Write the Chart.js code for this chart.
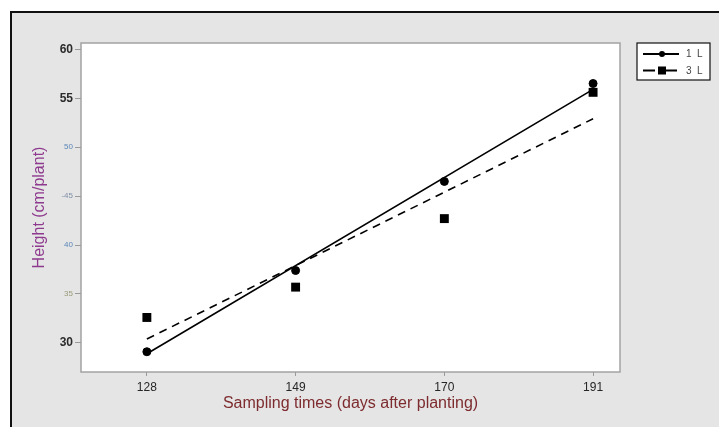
<!DOCTYPE html>
<html>
<head>
<meta charset="utf-8">
<script src="https://cdn.jsdelivr.net/npm/chart.js@4/dist/chart.umd.min.js"></script>
<style>
  html, body { margin: 0; padding: 0; background: #ffffff; }
  #wrap { width: 719px; height: 427px; position: relative; }
</style>
</head>
<body>
<div id="wrap"><canvas id="grafico" width="719" height="427"></canvas></div>
<script>
// datos
const dias = [128, 149, 170, 191];            // eje X (sampling times)
const alto1L = [29.1, 37.4, 46.5, 56.5];      // 1 L, puntos
const alto3L = [32.6, 35.7, 42.7, 55.6];      // 3 L, puntos
const ajuste1L = [28.9, 55.9];                // recta ajustada 1 L (en 128 y 191)
const ajuste3L = [30.4, 52.9];                // recta ajustada 3 L (en 128 y 191)
const ticksY = [30, 35, 40, 45, 50, 55, 60];
const etiquetasY = ['30', '35', '40', '-45', '50', '55', '60'];
const series = ['1 L', '3 L'];

// estilos de las etiquetas del eje Y (la imagen original es irregular)
const estiloTickY = {
  30: { color: '#2b2b2b', size: 12, weight: 'bold' },
  35: { color: '#9a9a78', size: 8, weight: 'normal' },
  40: { color: '#5b86b8', size: 8, weight: 'normal' },
  45: { color: '#7f8fa8', size: 8, weight: 'normal' },
  50: { color: '#5b86b8', size: 8, weight: 'normal' },
  55: { color: '#2b2b2b', size: 12, weight: 'bold' },
  60: { color: '#2b2b2b', size: 12, weight: 'bold' }
};

const puntos = (ys) => dias.map((d, i) => ({ x: d, y: ys[i] }));
const recta = (ys) => [{ x: dias[0], y: ys[0] }, { x: dias[dias.length - 1], y: ys[1] }];

// fondo gris, marco negro y area blanca del grafico
const fondo = {
  id: 'fondo',
  beforeDraw(chart) {
    const { ctx, chartArea: a } = chart;
    ctx.save();
    ctx.fillStyle = '#ffffff';
    ctx.fillRect(0, 0, chart.width, chart.height);
    ctx.fillStyle = '#e5e5e5';
    ctx.fillRect(10, 11, chart.width - 10, chart.height - 11);
    ctx.strokeStyle = '#111111';
    ctx.lineWidth = 2;
    ctx.beginPath();
    ctx.moveTo(11, chart.height);
    ctx.lineTo(11, 12);
    ctx.lineTo(chart.width, 12);
    ctx.stroke();
    ctx.fillStyle = '#ffffff';
    ctx.fillRect(a.left, a.top, a.right - a.left, a.bottom - a.top);
    ctx.strokeStyle = '#a3a3a3';
    ctx.lineWidth = 1.5;
    ctx.strokeRect(a.left, a.top, a.right - a.left, a.bottom - a.top);
    ctx.restore();
  }
};

// leyenda con linea y marcador, dentro de un recuadro
const leyenda = {
  id: 'leyenda',
  afterDraw(chart) {
    const { ctx } = chart;
    ctx.save();
    ctx.fillStyle = '#ffffff';
    ctx.fillRect(637, 43, 73, 37);
    ctx.strokeStyle = '#111111';
    ctx.lineWidth = 1.2;
    ctx.strokeRect(637, 43, 73, 37);
    ctx.strokeStyle = '#000000';
    ctx.fillStyle = '#000000';
    ctx.lineWidth = 2;
    // 1 L
    ctx.beginPath();
    ctx.moveTo(643, 54);
    ctx.lineTo(679, 54);
    ctx.stroke();
    ctx.beginPath();
    ctx.arc(662, 54, 3, 0, Math.PI * 2);
    ctx.fill();
    // 3 L
    ctx.beginPath();
    ctx.moveTo(643, 70.5);
    ctx.lineTo(655, 70.5);
    ctx.moveTo(666, 70.5);
    ctx.lineTo(677, 70.5);
    ctx.stroke();
    ctx.fillRect(658, 66.5, 8, 8);
    ctx.font = '10px "Liberation Sans", Arial, sans-serif';
    ctx.textBaseline = 'middle';
    ctx.fillStyle = '#444444';
    ctx.fillText(series[0].replace(' ', '  '), 686, 54);
    ctx.fillText(series[1].replace(' ', '  '), 686, 71);
    ctx.restore();
  }
};

const datasets = [
  {
    label: series[0],
    data: puntos(alto1L),
    pointStyle: 'circle',
    pointRadius: 4,
    backgroundColor: '#000000',
    borderColor: '#000000',
    showLine: false
  },
  {
    label: series[1],
    data: puntos(alto3L),
    pointStyle: 'rect',
    pointRadius: 6.3,
    backgroundColor: '#000000',
    borderColor: '#000000',
    borderWidth: 0,
    showLine: false
  },
  {
    label: series[0] + ' ajuste',
    data: recta(ajuste1L),
    showLine: true,
    borderColor: '#000000',
    borderWidth: 1.6,
    pointRadius: 0
  },
  {
    label: series[1] + ' ajuste',
    data: recta(ajuste3L),
    showLine: true,
    borderColor: '#000000',
    borderWidth: 1.6,
    borderDash: [8, 6],
    pointRadius: 0
  }
];

const config = {
  type: 'scatter',
  data: { datasets },
  options: {
    responsive: false,
    animation: false,
    layout: { padding: { left: 10, top: 43, right: 99, bottom: 0 } },
    plugins: {
      legend: { display: false },
      tooltip: { enabled: false }
    },
    scales: {
      x: {
        type: 'linear',
        min: 118.7,
        max: 194.8,
        afterBuildTicks: (s) => { s.ticks = dias.map((v) => ({ value: v })); },
        afterFit: (s) => { s.height = 55; },
        grid: { drawOnChartArea: false, tickLength: 4, tickColor: '#9a9a9a' },
        border: { display: false },
        ticks: {
          padding: 4,
          color: '#262626',
          font: { family: '"Liberation Sans", Arial, sans-serif', size: 12 },
          maxRotation: 0
        },
        title: {
          display: true,
          text: 'Sampling times (days after planting)',
          color: '#7d2b2e',
          font: { family: '"Liberation Sans", Arial, sans-serif', size: 16 },
          padding: { top: 0, bottom: 14 }
        }
      },
      y: {
        min: 27.03,
        max: 60.64,
        afterBuildTicks: (s) => { s.ticks = ticksY.map((v) => ({ value: v })); },
        afterFit: (s) => { s.width = 71; },
        grid: { drawOnChartArea: false, tickLength: 6, tickColor: '#9a9a9a' },
        border: { display: false },
        ticks: {
          padding: 2,
          callback: (v) => etiquetasY[ticksY.indexOf(v)],
          color: (c) => (estiloTickY[c.tick.value] || {}).color || '#2b2b2b',
          font: (c) => {
            const e = estiloTickY[c.tick && c.tick.value] || { size: 12, weight: 'bold' };
            return { family: '"Liberation Sans", Arial, sans-serif', size: e.size, weight: e.weight };
          }
        },
        title: {
          display: true,
          text: 'Height (cm/plant)',
          color: '#8e3a8e',
          font: { family: '"Liberation Sans", Arial, sans-serif', size: 16 },
          padding: { top: 20, bottom: 0 }
        }
      }
    }
  },
  plugins: [fondo, leyenda]
};

const myChart = new Chart(document.getElementById('grafico'), config);
</script>
</body>
</html>
